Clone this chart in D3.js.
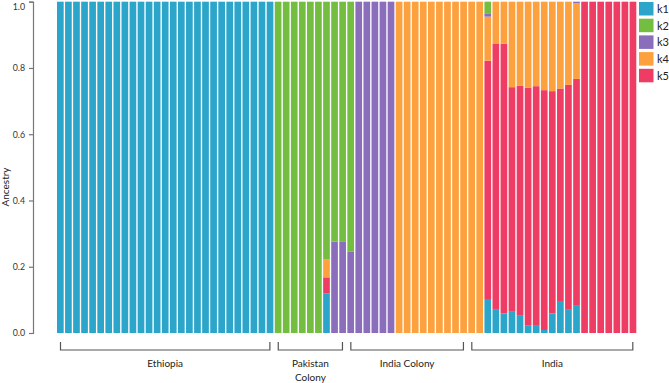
<!DOCTYPE html>
<html>
<head>
<meta charset="utf-8">
<script src="https://cdn.jsdelivr.net/npm/d3@7"></script>
<style>
  html, body { margin: 0; padding: 0; background: #fff; }
  svg { display: block; font-family: Lato, "Open Sans", sans-serif; }
</style>
</head>
<body>
<svg id="chart" width="669" height="383"></svg>
<script>
// Ancestry proportions per individual (72 individuals)
const k1 = [1,1,1,1,1,1,1,1,1,1,1,1,1,1,1,1,1,1,1,1,1,1,1,1,1,1,1,
            0,0,0,0,0,0,
            0.12,
            0,0,0,0,0,0,0,0,0,0,0,0,0,0,0,0,0,0,0,
            0.10,0.07,0.059,0.064,0.054,0.022,0.024,0.009,0.059,0.094,0.070,0.082,
            0,0,0,0,0,0,0];
const k2 = [0,0,0,0,0,0,0,0,0,0,0,0,0,0,0,0,0,0,0,0,0,0,0,0,0,0,0,
            1,1,1,1,1,1,
            0.777,0.724,0.725,0.755,
            0,0,0,0,0,0,0,0,0,0,0,0,0,0,0,0,
            0.035,
            0,0,0,0,0,0,0,0,0,0,0,0,0,0,0,0,0,0];
const k3 = [0,0,0,0,0,0,0,0,0,0,0,0,0,0,0,0,0,0,0,0,0,0,0,0,0,0,0,0,0,0,0,0,0,0,
            0.276,0.275,0.245,
            1,1,1,1,1,
            0,0,0,0,0,0,0,0,0,0,0,
            0.01,
            0,0,0,0,0,0,0,0,0,0,
            0.005,
            0,0,0,0,0,0,0];
const k4 = [0,0,0,0,0,0,0,0,0,0,0,0,0,0,0,0,0,0,0,0,0,0,0,0,0,0,0,0,0,0,0,0,0,
            0.055,
            0,0,0,0,0,0,0,0,
            1,1,1,1,1,1,1,1,1,1,1,
            0.133,0.126,0.127,0.258,0.254,0.26,0.255,0.267,0.27,0.262,0.251,0.228,
            0,0,0,0,0,0,0];
const k5 = [0,0,0,0,0,0,0,0,0,0,0,0,0,0,0,0,0,0,0,0,0,0,0,0,0,0,0,0,0,0,0,0,0,
            0.048,
            0,0,0,0,0,0,0,0,0,0,0,0,0,0,0,0,0,0,0,
            0.722,0.804,0.814,0.678,0.692,0.718,0.721,0.724,0.671,0.644,0.679,0.685,
            1,1,1,1,1,1,1];

const groupNames = ["Ethiopia", "Pakistan Colony", "India Colony", "India"];
const groupSizes = [27, 9, 15, 21];
const groupLabelLines = [["Ethiopia"], ["Pakistan", "Colony"], ["India Colony"], ["India"]];

const legendKeys = ["k1", "k2", "k3", "k4", "k5"];
const stackOrder = ["k1", "k5", "k4", "k3", "k2"];
const yTicks = [0, 0.2, 0.4, 0.6, 0.8, 1.0];
const colors = {k1: "#2CA5CB", k2: "#73BD41", k3: "#8A6DBB", k4: "#FCA13E", k5: "#EF3C64"};

const series = {k1, k2, k3, k4, k5};
const rows = k1.map((_, i) => {
  const r = {id: i};
  legendKeys.forEach(k => r[k] = series[k][i]);
  return r;
});

const svg = d3.select("#chart");

const x = d3.scaleBand()
  .domain(rows.map(d => d.id))
  .range([57, 636.3])
  .paddingInner(0.17)
  .paddingOuter(0);

const y = d3.scaleLinear().domain([0, 1]).range([333, 1.7]);

const stacked = d3.stack().keys(stackOrder)(rows);

svg.append("g")
  .selectAll("g")
  .data(stacked)
  .join("g")
  .attr("fill", s => colors[s.key])
  .selectAll("rect")
  .data(s => s.filter(d => d[1] - d[0] > 0))
  .join("rect")
  .attr("x", d => x(d.data.id))
  .attr("width", x.bandwidth())
  .attr("y", d => y(d[1]))
  .attr("height", d => y(d[0]) - y(d[1]));

// Y axis
const yAxis = d3.axisLeft(y).tickValues(yTicks).tickFormat(d3.format(".1f")).tickSize(4).tickPadding(4);
const gy = svg.append("g").attr("transform", "translate(33,0)").call(yAxis);
gy.select(".domain").attr("stroke", "#777").attr("stroke-width", 1.2);
gy.selectAll(".tick line").attr("stroke", "#777").attr("stroke-width", 1.2);
gy.selectAll(".tick text").attr("fill", "#333").style("font-size", "8.8px").style("font-family", "Lato, sans-serif");
gy.selectAll(".tick text").filter(d => d === 1).attr("dy", "0.85em");

svg.append("text")
  .attr("transform", "translate(9,187) rotate(-90)")
  .attr("text-anchor", "middle")
  .attr("fill", "#222")
  .style("font-size", "10px")
  .text("Ancestry");

// Group brackets
let start = 0;
const groups = groupNames.map((name, gi) => {
  const g = {name, first: start, last: start + groupSizes[gi] - 1, lines: groupLabelLines[gi]};
  start += groupSizes[gi];
  return g;
});

const inset = 3.5;
const bg = svg.append("g");
groups.forEach(g => {
  const x1 = x(g.first) + inset;
  const x2 = x(g.last) + x.bandwidth() - inset;
  bg.append("path")
    .attr("d", `M${x1},342 V350 H${x2} V342`)
    .attr("fill", "none")
    .attr("stroke", "#555")
    .attr("stroke-width", 1.2);
  const cx = (x1 + x2) / 2;
  g.lines.forEach((ln, li) => {
    bg.append("text")
      .attr("x", cx)
      .attr("y", 366.5 + li * 14.5)
      .attr("text-anchor", "middle")
      .attr("fill", "#222")
      .style("font-size", "10px")
      .text(ln);
  });
});

// Legend
const lg = svg.append("g").attr("transform", "translate(639,2)");
legendKeys.forEach((k, i) => {
  lg.append("rect")
    .attr("x", 0).attr("y", i * 16.7)
    .attr("width", 14.5).attr("height", 13.5)
    .attr("fill", colors[k]);
  lg.append("text")
    .attr("x", 18).attr("y", i * 16.7 + 10.8)
    .attr("fill", "#222")
    .style("font-size", "11px")
    .text(k);
});
</script>
</body>
</html>
